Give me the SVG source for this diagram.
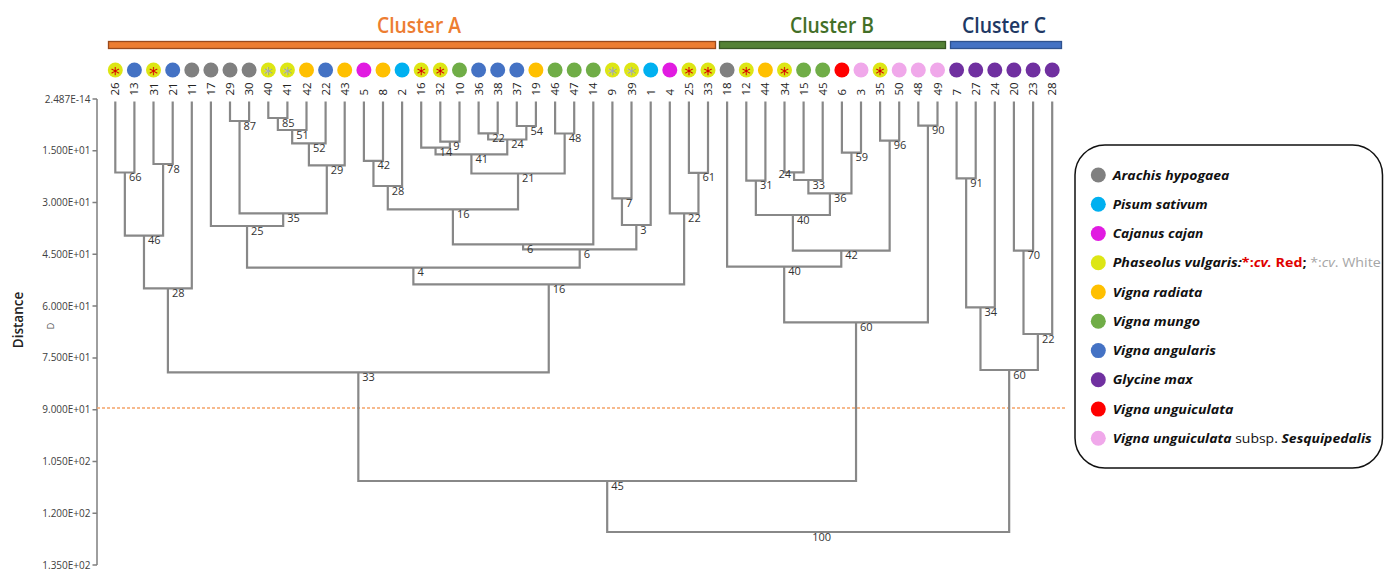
<svg xmlns="http://www.w3.org/2000/svg" width="1384" height="571" viewBox="0 0 1384 571">
<style>
.bg{fill:#fff}
.ct{font-family:"Open Sans","Liberation Sans",sans-serif;font-weight:600;font-size:21px;text-anchor:middle}
.lf{font-family:"Open Sans","Liberation Sans",sans-serif;font-size:11.5px;fill:#222}
.ast{font-family:"DejaVu Sans",sans-serif;font-size:18px;text-anchor:middle}
.ar{fill:#D80000}.aw{fill:#A3ABBA}
.c-ara{fill:#808080}.c-pis{fill:#00B0F0}.c-caj{fill:#E11BE1}.c-pv{fill:#DDE614}.c-rad{fill:#FFC000}
.c-mun{fill:#70AD47}.c-ang{fill:#4472C4}.c-gly{fill:#7030A0}.c-ung{fill:#FF0000}.c-ses{fill:#F0A8EA}
.br{fill:none;stroke:#888;stroke-width:2.2;stroke-linejoin:miter}
.nl{font-family:"Open Sans","Liberation Sans",sans-serif;font-size:11px;fill:#333}
.ax{fill:none;stroke:#7f7f7f;stroke-width:1.5}
.tl{font-family:"Open Sans","Liberation Sans",sans-serif;font-size:10px;fill:#404040;text-anchor:end}
.lg{font-family:"Open Sans","Liberation Sans",sans-serif;font-size:13px;font-weight:bold;font-style:italic;fill:#111}
</style>
<rect class="bg" x="0" y="0" width="1384" height="571"/>

<g id="clusters">
  <g id="cluster-A">
    <text class="ct" x="419" y="33" fill="#ED7D31" textLength="84" lengthAdjust="spacingAndGlyphs">Cluster A</text>
    <rect x="108.5" y="41.5" width="607" height="7" fill="#ED7D31" stroke="#9A4A1C" stroke-width="1.3"/>
  </g>
  <g id="cluster-B">
    <text class="ct" x="832" y="33" fill="#436F27" textLength="84" lengthAdjust="spacingAndGlyphs">Cluster B</text>
    <rect x="719.5" y="41.5" width="226" height="7" fill="#548235" stroke="#375623" stroke-width="1.3"/>
  </g>
  <g id="cluster-C">
    <text class="ct" x="1004" y="33" fill="#203864" textLength="84" lengthAdjust="spacingAndGlyphs">Cluster C</text>
    <rect x="950.5" y="41.5" width="111" height="7" fill="#4472C4" stroke="#2F528F" stroke-width="1.3"/>
  </g>
</g>

<g id="axis">
  <path class="ax" d="M97 99 V565 M92.5 99 H97 M92.5 150.8 H97 M92.5 202.6 H97 M92.5 254.3 H97 M92.5 306.1 H97 M92.5 357.9 H97 M92.5 409.7 H97 M92.5 461.5 H97 M92.5 513.2 H97 M92.5 565 H97"/>
  <text class="tl" x="90.5" y="102.5">2.487E-14</text>
  <text class="tl" x="90.5" y="154.3">1.500E+01</text>
  <text class="tl" x="90.5" y="206.1">3.000E+01</text>
  <text class="tl" x="90.5" y="257.8">4.500E+01</text>
  <text class="tl" x="90.5" y="309.6">6.000E+01</text>
  <text class="tl" x="90.5" y="361.4">7.500E+01</text>
  <text class="tl" x="90.5" y="413.2">9.000E+01</text>
  <text class="tl" x="90.5" y="465">1.050E+02</text>
  <text class="tl" x="90.5" y="516.7">1.200E+02</text>
  <text class="tl" x="90.5" y="568.5">1.350E+02</text>
  <text transform="translate(23 320) rotate(-90)" font-family="Open Sans, Liberation Sans, sans-serif" font-size="13.5" font-weight="600" fill="#222" text-anchor="middle">Distance</text>
  <text transform="translate(54 326) rotate(-90)" font-family="Open Sans, Liberation Sans, sans-serif" font-size="9" fill="#555" text-anchor="middle">D</text>
</g>

<line id="cut-line" x1="97" y1="408" x2="1067" y2="408" stroke="#F5A468" stroke-width="1.6" stroke-dasharray="3 2"/>

<g id="leaves">
<g id="leaf-26" transform="translate(115.3 0)"><circle class="c-pv" cy="70" r="7.5"/><text class="ast ar" y="80.3">*</text><text class="lf" transform="translate(4 95.5) rotate(-90)">26</text></g>
<g id="leaf-13" transform="translate(134.4 0)"><circle class="c-ang" cy="70" r="7.5"/><text class="lf" transform="translate(4 95.5) rotate(-90)">13</text></g>
<g id="leaf-31" transform="translate(153.5 0)"><circle class="c-pv" cy="70" r="7.5"/><text class="ast ar" y="80.3">*</text><text class="lf" transform="translate(4 95.5) rotate(-90)">31</text></g>
<g id="leaf-21" transform="translate(172.7 0)"><circle class="c-ang" cy="70" r="7.5"/><text class="lf" transform="translate(4 95.5) rotate(-90)">21</text></g>
<g id="leaf-11" transform="translate(191.8 0)"><circle class="c-ara" cy="70" r="7.5"/><text class="lf" transform="translate(4 95.5) rotate(-90)">11</text></g>
<g id="leaf-17" transform="translate(210.9 0)"><circle class="c-ara" cy="70" r="7.5"/><text class="lf" transform="translate(4 95.5) rotate(-90)">17</text></g>
<g id="leaf-29" transform="translate(230 0)"><circle class="c-ara" cy="70" r="7.5"/><text class="lf" transform="translate(4 95.5) rotate(-90)">29</text></g>
<g id="leaf-30" transform="translate(249.1 0)"><circle class="c-ara" cy="70" r="7.5"/><text class="lf" transform="translate(4 95.5) rotate(-90)">30</text></g>
<g id="leaf-40" transform="translate(268.3 0)"><circle class="c-pv" cy="70" r="7.5"/><text class="ast aw" y="80.3">*</text><text class="lf" transform="translate(4 95.5) rotate(-90)">40</text></g>
<g id="leaf-41" transform="translate(287.4 0)"><circle class="c-pv" cy="70" r="7.5"/><text class="ast aw" y="80.3">*</text><text class="lf" transform="translate(4 95.5) rotate(-90)">41</text></g>
<g id="leaf-42" transform="translate(306.5 0)"><circle class="c-rad" cy="70" r="7.5"/><text class="lf" transform="translate(4 95.5) rotate(-90)">42</text></g>
<g id="leaf-22" transform="translate(325.6 0)"><circle class="c-ang" cy="70" r="7.5"/><text class="lf" transform="translate(4 95.5) rotate(-90)">22</text></g>
<g id="leaf-43" transform="translate(344.7 0)"><circle class="c-rad" cy="70" r="7.5"/><text class="lf" transform="translate(4 95.5) rotate(-90)">43</text></g>
<g id="leaf-5" transform="translate(363.9 0)"><circle class="c-caj" cy="70" r="7.5"/><text class="lf" transform="translate(4 95.5) rotate(-90)">5</text></g>
<g id="leaf-8" transform="translate(383 0)"><circle class="c-rad" cy="70" r="7.5"/><text class="lf" transform="translate(4 95.5) rotate(-90)">8</text></g>
<g id="leaf-2" transform="translate(402.1 0)"><circle class="c-pis" cy="70" r="7.5"/><text class="lf" transform="translate(4 95.5) rotate(-90)">2</text></g>
<g id="leaf-16" transform="translate(421.2 0)"><circle class="c-pv" cy="70" r="7.5"/><text class="ast ar" y="80.3">*</text><text class="lf" transform="translate(4 95.5) rotate(-90)">16</text></g>
<g id="leaf-32" transform="translate(440.3 0)"><circle class="c-pv" cy="70" r="7.5"/><text class="ast ar" y="80.3">*</text><text class="lf" transform="translate(4 95.5) rotate(-90)">32</text></g>
<g id="leaf-10" transform="translate(459.5 0)"><circle class="c-mun" cy="70" r="7.5"/><text class="lf" transform="translate(4 95.5) rotate(-90)">10</text></g>
<g id="leaf-36" transform="translate(478.6 0)"><circle class="c-ang" cy="70" r="7.5"/><text class="lf" transform="translate(4 95.5) rotate(-90)">36</text></g>
<g id="leaf-38" transform="translate(497.7 0)"><circle class="c-ang" cy="70" r="7.5"/><text class="lf" transform="translate(4 95.5) rotate(-90)">38</text></g>
<g id="leaf-37" transform="translate(516.8 0)"><circle class="c-ang" cy="70" r="7.5"/><text class="lf" transform="translate(4 95.5) rotate(-90)">37</text></g>
<g id="leaf-19" transform="translate(535.9 0)"><circle class="c-rad" cy="70" r="7.5"/><text class="lf" transform="translate(4 95.5) rotate(-90)">19</text></g>
<g id="leaf-46" transform="translate(555.1 0)"><circle class="c-mun" cy="70" r="7.5"/><text class="lf" transform="translate(4 95.5) rotate(-90)">46</text></g>
<g id="leaf-47" transform="translate(574.2 0)"><circle class="c-mun" cy="70" r="7.5"/><text class="lf" transform="translate(4 95.5) rotate(-90)">47</text></g>
<g id="leaf-14" transform="translate(593.3 0)"><circle class="c-mun" cy="70" r="7.5"/><text class="lf" transform="translate(4 95.5) rotate(-90)">14</text></g>
<g id="leaf-9" transform="translate(612.4 0)"><circle class="c-pv" cy="70" r="7.5"/><text class="ast aw" y="80.3">*</text><text class="lf" transform="translate(4 95.5) rotate(-90)">9</text></g>
<g id="leaf-39" transform="translate(631.5 0)"><circle class="c-pv" cy="70" r="7.5"/><text class="ast aw" y="80.3">*</text><text class="lf" transform="translate(4 95.5) rotate(-90)">39</text></g>
<g id="leaf-1" transform="translate(650.7 0)"><circle class="c-pis" cy="70" r="7.5"/><text class="lf" transform="translate(4 95.5) rotate(-90)">1</text></g>
<g id="leaf-4" transform="translate(669.8 0)"><circle class="c-caj" cy="70" r="7.5"/><text class="lf" transform="translate(4 95.5) rotate(-90)">4</text></g>
<g id="leaf-25" transform="translate(688.9 0)"><circle class="c-pv" cy="70" r="7.5"/><text class="ast ar" y="80.3">*</text><text class="lf" transform="translate(4 95.5) rotate(-90)">25</text></g>
<g id="leaf-33" transform="translate(708 0)"><circle class="c-pv" cy="70" r="7.5"/><text class="ast ar" y="80.3">*</text><text class="lf" transform="translate(4 95.5) rotate(-90)">33</text></g>
<g id="leaf-18" transform="translate(727.1 0)"><circle class="c-ara" cy="70" r="7.5"/><text class="lf" transform="translate(4 95.5) rotate(-90)">18</text></g>
<g id="leaf-12" transform="translate(746.3 0)"><circle class="c-pv" cy="70" r="7.5"/><text class="ast ar" y="80.3">*</text><text class="lf" transform="translate(4 95.5) rotate(-90)">12</text></g>
<g id="leaf-44" transform="translate(765.4 0)"><circle class="c-rad" cy="70" r="7.5"/><text class="lf" transform="translate(4 95.5) rotate(-90)">44</text></g>
<g id="leaf-34" transform="translate(784.5 0)"><circle class="c-pv" cy="70" r="7.5"/><text class="ast ar" y="80.3">*</text><text class="lf" transform="translate(4 95.5) rotate(-90)">34</text></g>
<g id="leaf-15" transform="translate(803.6 0)"><circle class="c-mun" cy="70" r="7.5"/><text class="lf" transform="translate(4 95.5) rotate(-90)">15</text></g>
<g id="leaf-45" transform="translate(822.7 0)"><circle class="c-mun" cy="70" r="7.5"/><text class="lf" transform="translate(4 95.5) rotate(-90)">45</text></g>
<g id="leaf-6" transform="translate(841.9 0)"><circle class="c-ung" cy="70" r="7.5"/><text class="lf" transform="translate(4 95.5) rotate(-90)">6</text></g>
<g id="leaf-3" transform="translate(861 0)"><circle class="c-ses" cy="70" r="7.5"/><text class="lf" transform="translate(4 95.5) rotate(-90)">3</text></g>
<g id="leaf-35" transform="translate(880.1 0)"><circle class="c-pv" cy="70" r="7.5"/><text class="ast ar" y="80.3">*</text><text class="lf" transform="translate(4 95.5) rotate(-90)">35</text></g>
<g id="leaf-50" transform="translate(899.2 0)"><circle class="c-ses" cy="70" r="7.5"/><text class="lf" transform="translate(4 95.5) rotate(-90)">50</text></g>
<g id="leaf-48" transform="translate(918.3 0)"><circle class="c-ses" cy="70" r="7.5"/><text class="lf" transform="translate(4 95.5) rotate(-90)">48</text></g>
<g id="leaf-49" transform="translate(937.5 0)"><circle class="c-ses" cy="70" r="7.5"/><text class="lf" transform="translate(4 95.5) rotate(-90)">49</text></g>
<g id="leaf-7" transform="translate(956.6 0)"><circle class="c-gly" cy="70" r="7.5"/><text class="lf" transform="translate(4 95.5) rotate(-90)">7</text></g>
<g id="leaf-27" transform="translate(975.7 0)"><circle class="c-gly" cy="70" r="7.5"/><text class="lf" transform="translate(4 95.5) rotate(-90)">27</text></g>
<g id="leaf-24" transform="translate(994.8 0)"><circle class="c-gly" cy="70" r="7.5"/><text class="lf" transform="translate(4 95.5) rotate(-90)">24</text></g>
<g id="leaf-20" transform="translate(1013.9 0)"><circle class="c-gly" cy="70" r="7.5"/><text class="lf" transform="translate(4 95.5) rotate(-90)">20</text></g>
<g id="leaf-23" transform="translate(1033.1 0)"><circle class="c-gly" cy="70" r="7.5"/><text class="lf" transform="translate(4 95.5) rotate(-90)">23</text></g>
<g id="leaf-28" transform="translate(1052.2 0)"><circle class="c-gly" cy="70" r="7.5"/><text class="lf" transform="translate(4 95.5) rotate(-90)">28</text></g>
</g>

<g id="connectors" class="br">
<path d="M115.3 101.5 V172.5 H134.4 V101.5"/>
<path d="M153.5 101.5 V164 H172.7 V101.5"/>
<path d="M124.85 172.5 V235.7 H163.1 V164"/>
<path d="M143.98 235.7 V288.3 H191.8 V101.5"/>
<path d="M230 101.5 V121 H249.1 V101.5"/>
<path d="M268.3 101.5 V118 H287.4 V101.5"/>
<path d="M277.85 118 V130 H306.5 V101.5"/>
<path d="M292.18 130 V143.3 H325.6 V101.5"/>
<path d="M308.9 143.3 V165.3 H344.7 V101.5"/>
<path d="M239.55 121 V213.3 H326.8 V165.3"/>
<path d="M210.9 101.5 V226 H283.18 V213.3"/>
<path d="M363.9 101.5 V160.8 H383 V101.5"/>
<path d="M373.45 160.8 V186 H402.1 V101.5"/>
<path d="M440.3 101.5 V141.7 H459.5 V101.5"/>
<path d="M421.2 101.5 V147.7 H449.9 V141.7"/>
<path d="M478.6 101.5 V133.3 H497.7 V101.5"/>
<path d="M516.8 101.5 V126 H535.9 V101.5"/>
<path d="M488.15 133.3 V139.5 H526.35 V126"/>
<path d="M435.55 147.7 V154.3 H507.25 V139.5"/>
<path d="M555.1 101.5 V133.5 H574.2 V101.5"/>
<path d="M471.4 154.3 V173.5 H564.65 V133.5"/>
<path d="M387.78 186 V209.3 H518.03 V173.5"/>
<path d="M452.9 209.3 V244.3 H593.3 V101.5"/>
<path d="M612.4 101.5 V198.3 H631.5 V101.5"/>
<path d="M621.95 198.3 V225 H650.7 V101.5"/>
<path d="M523.1 244.3 V249.3 H636.33 V225"/>
<path d="M247.04 226 V267.7 H579.7 V249.3"/>
<path d="M688.9 101.5 V172.8 H708 V101.5"/>
<path d="M669.8 101.5 V213.3 H698.45 V172.8"/>
<path d="M413.37 267.7 V284.3 H684.13 V213.3"/>
<path d="M167.9 288.3 V372.3 H548.75 V284.3"/>
<path d="M746.3 101.5 V180.7 H765.4 V101.5"/>
<path d="M784.5 101.5 V172.3 H803.6 V101.5"/>
<path d="M794.05 172.3 V180 H822.7 V101.5"/>
<path d="M841.9 101.5 V152.7 H861 V101.5"/>
<path d="M808.38 180 V193.3 H851.45 V152.7"/>
<path d="M755.85 180.7 V215 H829.9 V193.3"/>
<path d="M880.1 101.5 V140.7 H899.2 V101.5"/>
<path d="M792.88 215 V250.7 H889.65 V140.7"/>
<path d="M727.1 101.5 V266.7 H841.27 V250.7"/>
<path d="M918.3 101.5 V125.7 H937.5 V101.5"/>
<path d="M784.18 266.7 V322.3 H927.9 V125.7"/>
<path d="M956.6 101.5 V178.3 H975.7 V101.5"/>
<path d="M966.15 178.3 V307.3 H994.8 V101.5"/>
<path d="M1013.9 101.5 V250.7 H1033.1 V101.5"/>
<path d="M1023.5 250.7 V334 H1052.2 V101.5"/>
<path d="M980.48 307.3 V370 H1037.85 V334"/>
<path d="M358.33 372.3 V481 H856.04 V322.3"/>
<path d="M607.19 481 V532 H1009.17 V370"/>
</g>

<g id="node-labels" class="nl">
<text x="128.9" y="181">66</text>
<text x="167.1" y="172.5">78</text>
<text x="148" y="244.2">46</text>
<text x="171.9" y="296.8">28</text>
<text x="243.5" y="129.5">87</text>
<text x="281.9" y="126.5">85</text>
<text x="296.2" y="138.5">51</text>
<text x="312.9" y="151.8">52</text>
<text x="330.8" y="173.8">29</text>
<text x="287.2" y="221.8">35</text>
<text x="251" y="234.5">25</text>
<text x="377.5" y="169.3">42</text>
<text x="391.8" y="194.5">28</text>
<text x="453.3" y="150.2">9</text>
<text x="439.6" y="156.2">14</text>
<text x="492.2" y="141.8">22</text>
<text x="530.4" y="134.5">54</text>
<text x="511.3" y="148">24</text>
<text x="475.4" y="162.8">41</text>
<text x="568.7" y="142">48</text>
<text x="522" y="182">21</text>
<text x="456.9" y="217.8">16</text>
<text x="527.1" y="252.8">6</text>
<text x="626" y="206.8">7</text>
<text x="640.3" y="233.5">3</text>
<text x="583.7" y="257.8">6</text>
<text x="417.4" y="276.2">4</text>
<text x="702.5" y="181.3">61</text>
<text x="688.1" y="221.8">22</text>
<text x="552.8" y="292.8">16</text>
<text x="362.3" y="380.8">33</text>
<text x="759.9" y="189.2">31</text>
<text x="791" y="177.5" text-anchor="end">24</text>
<text x="812.4" y="188.5">33</text>
<text x="855.5" y="161.2">59</text>
<text x="833.9" y="201.8">36</text>
<text x="796.9" y="223.5">40</text>
<text x="893.7" y="149.2">96</text>
<text x="845.3" y="259.2">42</text>
<text x="788.2" y="275.2">40</text>
<text x="931.9" y="134.2">90</text>
<text x="860" y="330.8">60</text>
<text x="970.2" y="186.8">91</text>
<text x="984.5" y="315.8">34</text>
<text x="1027.5" y="259.2">70</text>
<text x="1041.9" y="342.5">22</text>
<text x="1013.2" y="378.5">60</text>
<text x="611.2" y="489.5">45</text>
<text x="812.2" y="540.5">100</text>
</g>

<g id="legend">
  <rect x="1075" y="145" width="307.5" height="323" rx="30" ry="30" fill="#fff" stroke="#111" stroke-width="1.5"/>
  <g id="lg-arachis"><circle class="c-ara" cx="1098.3" cy="175" r="7.5"/><text class="lg" x="1112.7" y="179.6" textLength="116.7" lengthAdjust="spacingAndGlyphs">Arachis hypogaea</text></g>
  <g id="lg-pisum"><circle class="c-pis" cx="1098.3" cy="204.3" r="7.5"/><text class="lg" x="1112.7" y="208.9" textLength="95" lengthAdjust="spacingAndGlyphs">Pisum sativum</text></g>
  <g id="lg-cajanus"><circle class="c-caj" cx="1098.3" cy="233.5" r="7.5"/><text class="lg" x="1112.7" y="238.1" textLength="90.7" lengthAdjust="spacingAndGlyphs">Cajanus cajan</text></g>
  <g id="lg-phaseolus"><circle class="c-pv" cx="1098.3" cy="262.8" r="7.5"/><text class="lg" x="1112.7" y="267.4" textLength="268" lengthAdjust="spacingAndGlyphs">Phaseolus vulgaris:<tspan fill="#E00000" font-style="normal">*:<tspan font-style="italic">cv.</tspan> Red</tspan><tspan font-style="normal">; </tspan><tspan fill="#A6A6A6" font-weight="normal" font-style="normal">*:<tspan font-style="italic">cv</tspan>. White</tspan></text></g>
  <g id="lg-radiata"><circle class="c-rad" cx="1098.3" cy="292" r="7.5"/><text class="lg" x="1112.7" y="296.6" textLength="89.7" lengthAdjust="spacingAndGlyphs">Vigna radiata</text></g>
  <g id="lg-mungo"><circle class="c-mun" cx="1098.3" cy="321.3" r="7.5"/><text class="lg" x="1112.7" y="325.9" textLength="87.3" lengthAdjust="spacingAndGlyphs">Vigna mungo</text></g>
  <g id="lg-angularis"><circle class="c-ang" cx="1098.3" cy="350.6" r="7.5"/><text class="lg" x="1112.7" y="355.2" textLength="103.3" lengthAdjust="spacingAndGlyphs">Vigna angularis</text></g>
  <g id="lg-glycine"><circle class="c-gly" cx="1098.3" cy="379.8" r="7.5"/><text class="lg" x="1112.7" y="384.4" textLength="80" lengthAdjust="spacingAndGlyphs">Glycine max</text></g>
  <g id="lg-unguiculata"><circle class="c-ung" cx="1098.3" cy="409.1" r="7.5"/><text class="lg" x="1112.7" y="413.7" textLength="120.7" lengthAdjust="spacingAndGlyphs">Vigna unguiculata</text></g>
  <g id="lg-sesquipedalis"><circle class="c-ses" cx="1098.3" cy="438.3" r="7.5"/><text class="lg" x="1112.7" y="442.9" textLength="259" lengthAdjust="spacingAndGlyphs">Vigna unguiculata<tspan font-style="normal" font-weight="normal"> subsp. </tspan>Sesquipedalis</text></g>
</g>
</svg>
